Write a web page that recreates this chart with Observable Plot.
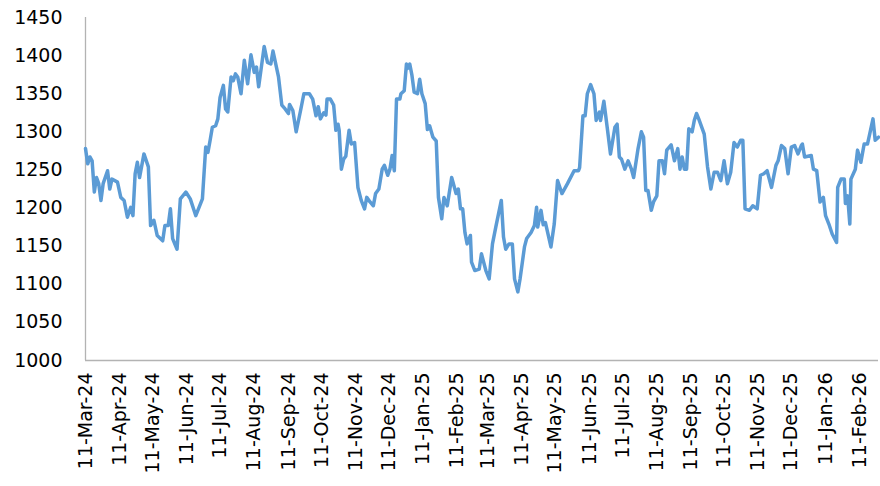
<!DOCTYPE html>
<html>
<head>
<meta charset="utf-8">
<script src="https://cdn.jsdelivr.net/npm/d3@7"></script>
<script src="https://cdn.jsdelivr.net/npm/@observablehq/plot@0.6"></script>
<style>
  html, body { margin: 0; padding: 0; background: #ffffff; }
  #chart { width: 880px; height: 486px; }
</style>
</head>
<body>
<div id="chart"></div>
<script>
const dates = [
  "2024-03-11","2024-03-13","2024-03-15","2024-03-17","2024-03-19","2024-03-21","2024-03-23","2024-03-25","2024-03-27","2024-03-31",
  "2024-04-02","2024-04-04","2024-04-09","2024-04-12","2024-04-15","2024-04-18","2024-04-21","2024-04-23","2024-04-25","2024-04-27",
  "2024-04-29","2024-05-03","2024-05-07","2024-05-09","2024-05-12","2024-05-15","2024-05-20","2024-05-22","2024-05-25","2024-05-27",
  "2024-05-29","2024-06-02","2024-06-05","2024-06-10","2024-06-14","2024-06-19","2024-06-25","2024-06-28","2024-06-30","2024-07-02",
  "2024-07-04","2024-07-07","2024-07-09","2024-07-11","2024-07-14","2024-07-16","2024-07-18","2024-07-21","2024-07-23","2024-07-25",
  "2024-07-27","2024-07-30","2024-08-02","2024-08-05","2024-08-08","2024-08-11","2024-08-13","2024-08-15","2024-08-20","2024-08-23",
  "2024-08-26","2024-08-28","2024-09-02","2024-09-05","2024-09-08","2024-09-11","2024-09-12","2024-09-15","2024-09-18","2024-09-22",
  "2024-09-25","2024-09-30","2024-10-03","2024-10-06","2024-10-08","2024-10-10","2024-10-13","2024-10-15","2024-10-16","2024-10-19",
  "2024-10-22","2024-10-23","2024-10-24","2024-10-26","2024-10-27","2024-10-29","2024-10-31","2024-11-02","2024-11-05","2024-11-07",
  "2024-11-10","2024-11-13","2024-11-16","2024-11-19","2024-11-21","2024-11-24","2024-11-27","2024-11-29","2024-12-02","2024-12-05",
  "2024-12-07","2024-12-10","2024-12-12","2024-12-14","2024-12-16","2024-12-18","2024-12-21","2024-12-22","2024-12-25","2024-12-27",
  "2024-12-28","2024-12-30","2025-01-01","2025-01-03","2025-01-06","2025-01-08","2025-01-10","2025-01-13","2025-01-15","2025-01-17",
  "2025-01-20","2025-01-23","2025-01-25","2025-01-28","2025-01-30","2025-02-02","2025-02-06","2025-02-10","2025-02-12","2025-02-14",
  "2025-02-16","2025-02-18","2025-02-20","2025-02-23","2025-02-24","2025-02-27","2025-03-03","2025-03-05","2025-03-09","2025-03-12",
  "2025-03-15","2025-03-18","2025-03-23","2025-03-25","2025-03-27","2025-03-30","2025-04-02","2025-04-04","2025-04-07","2025-04-09",
  "2025-04-13","2025-04-15","2025-04-19","2025-04-22","2025-04-24","2025-04-25","2025-04-28","2025-04-30","2025-05-02","2025-05-07",
  "2025-05-10","2025-05-13","2025-05-17","2025-05-22","2025-05-28","2025-06-01","2025-06-02","2025-06-05","2025-06-07","2025-06-09",
  "2025-06-12","2025-06-15","2025-06-17","2025-06-20","2025-06-21","2025-06-24","2025-06-27","2025-06-30","2025-07-04","2025-07-06",
  "2025-07-08","2025-07-10","2025-07-13","2025-07-16","2025-07-19","2025-07-21","2025-07-25","2025-07-28","2025-07-30","2025-08-01",
  "2025-08-03","2025-08-06","2025-08-08","2025-08-11","2025-08-13","2025-08-16","2025-08-18","2025-08-20","2025-08-24","2025-08-27",
  "2025-08-30","2025-09-01","2025-09-03","2025-09-05","2025-09-07","2025-09-09","2025-09-12","2025-09-14","2025-09-16","2025-09-18",
  "2025-09-23","2025-09-26","2025-09-29","2025-10-02","2025-10-05","2025-10-08","2025-10-11","2025-10-14","2025-10-17","2025-10-20",
  "2025-10-23","2025-10-26","2025-10-28","2025-10-30","2025-11-03","2025-11-06","2025-11-10","2025-11-13","2025-11-16","2025-11-19",
  "2025-11-23","2025-11-27","2025-11-29","2025-12-02","2025-12-05","2025-12-08","2025-12-11","2025-12-14","2025-12-17","2025-12-20",
  "2025-12-21","2025-12-23","2025-12-29","2025-12-31","2026-01-03","2026-01-06","2026-01-09","2026-01-11","2026-01-14","2026-01-17",
  "2026-01-21","2026-01-22","2026-01-25","2026-01-28","2026-01-29","2026-01-31","2026-02-02","2026-02-03","2026-02-07","2026-02-09",
  "2026-02-12","2026-02-15","2026-02-18","2026-02-20","2026-02-23","2026-02-25","2026-02-28"
];
const values = [
  1278,1258,1267,1262,1221,1240,1232,1210,1232,1249,
  1225,1238,1234,1214,1210,1188,1201,1190,1245,1260,
  1240,1271,1254,1177,1184,1164,1157,1177,1177,1199,
  1160,1146,1212,1221,1212,1190,1212,1280,1273,1289,
  1306,1308,1317,1345,1361,1330,1326,1372,1367,1376,
  1372,1350,1394,1363,1401,1378,1385,1359,1412,1391,
  1389,1406,1372,1335,1330,1324,1336,1328,1300,1328,
  1350,1350,1343,1321,1333,1317,1325,1322,1343,1343,
  1335,1319,1302,1310,1302,1251,1264,1268,1302,1284,
  1286,1227,1210,1199,1214,1208,1203,1219,1225,1251,
  1256,1243,1251,1269,1249,1343,1343,1350,1354,1389,
  1383,1389,1374,1352,1350,1369,1350,1337,1303,1308,
  1293,1288,1214,1186,1214,1203,1240,1219,1225,1199,
  1199,1168,1153,1164,1129,1118,1120,1140,1118,1107,
  1153,1175,1210,1162,1146,1153,1153,1107,1090,1107,
  1149,1160,1168,1177,1201,1175,1197,1178,1181,1149,
  1179,1236,1219,1232,1249,1249,1253,1321,1321,1350,
  1362,1350,1315,1326,1315,1340,1306,1271,1306,1310,
  1267,1264,1251,1262,1251,1240,1278,1300,1293,1223,
  1223,1197,1208,1216,1262,1262,1245,1276,1283,1262,
  1278,1251,1267,1251,1251,1304,1300,1315,1324,1317,
  1297,1254,1225,1247,1247,1236,1262,1232,1247,1286,
  1280,1289,1289,1199,1197,1203,1199,1243,1245,1249,
  1227,1256,1262,1282,1278,1245,1280,1282,1271,1282,
  1284,1267,1269,1251,1249,1208,1214,1190,1179,1166,
  1155,1227,1238,1238,1206,1216,1179,1238,1251,1276,
  1260,1284,1284,1297,1317,1289,1293
];
const xTicks = [
  "2024-03-11","2024-04-11","2024-05-11","2024-06-11","2024-07-11","2024-08-11",
  "2024-09-11","2024-10-11","2024-11-11","2024-12-11","2025-01-11","2025-02-11",
  "2025-03-11","2025-04-11","2025-05-11","2025-06-11","2025-07-11","2025-08-11",
  "2025-09-11","2025-10-11","2025-11-11","2025-12-11","2026-01-11","2026-02-11"
];
const yTicks = [1000,1050,1100,1150,1200,1250,1300,1350,1400,1450];

const parse = d3.utcParse("%Y-%m-%d");
const data = dates.map((d, i) => ({date: parse(d), value: values[i]}));
const tickDates = xTicks.map(parse);
const xStart = parse("2024-03-11");
const xEnd = parse("2026-02-28");

const chart = Plot.plot({
  width: 880,
  height: 486,
  marginLeft: 85,
  marginRight: 2,
  marginTop: 17,
  marginBottom: 126,
  style: {fontFamily: "'DejaVu Sans', sans-serif", fontSize: "19px", color: "#000", background: "#fff"},
  x: {type: "utc", domain: [xStart, xEnd]},
  y: {domain: [1000, 1450]},
  marks: [
    Plot.ruleY([1000], {stroke: "#b3b3b3", strokeWidth: 1.3}),
    Plot.ruleX([xStart], {stroke: "#b3b3b3", strokeWidth: 1.3}),
    Plot.axisY({ticks: yTicks, tickSize: 0, tickPadding: 23, label: null, fontSize: 19,
      tickFormat: d3.format("d")}),
    Plot.axisX({ticks: tickDates, tickSize: 0, tickPadding: 12, tickRotate: -90,
      tickFormat: d3.utcFormat("%d-%b-%y"), label: null, fontSize: 19}),
    Plot.line(data, {x: "date", y: "value", stroke: "#5b9bd5", strokeWidth: 3.5,
      strokeLinejoin: "round", strokeLinecap: "round"})
  ]
});
document.getElementById("chart").appendChild(chart);
</script>
</body>
</html>
